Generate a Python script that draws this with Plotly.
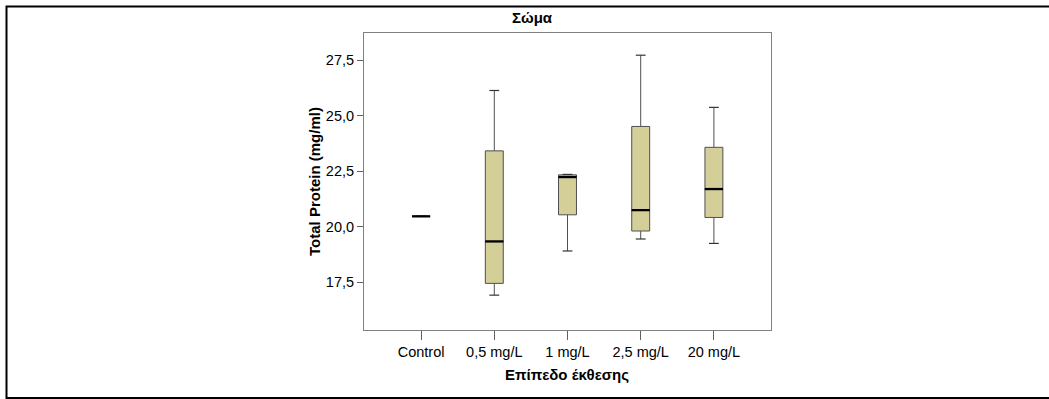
import plotly.graph_objects as go

# Five-number summaries of total protein per exposure level
categories = ["Control", "0,5 mg/L", "1 mg/L", "2,5 mg/L", "20 mg/L"]
lower_whisker = [20.46, 16.91, 18.90, 19.44, 19.24]
q1 = [20.46, 17.44, 20.53, 19.80, 20.41]
median = [20.46, 19.33, 22.23, 20.74, 21.69]
q3 = [20.46, 23.41, 22.33, 24.51, 23.57]
upper_whisker = [20.46, 26.13, 22.35, 27.72, 25.37]

y_ticks = [17.5, 20.0, 22.5, 25.0, 27.5]

W, H = 1049, 399
L, R, T, B = 364, 771, 33, 330  # plot frame in pixels
pw, ph = R - L, B - T

FONT = "Liberation Sans, Arial, sans-serif"
BOX_FILL = "#D4CF99"
EDGE = "#505050"
TICK_SIZE = 14.5
TITLE_SIZE = 15

fig = go.Figure()

fig.add_trace(go.Box(
    x=categories,
    q1=q1, median=median, q3=q3,
    lowerfence=lower_whisker, upperfence=upper_whisker,
    fillcolor=BOX_FILL,
    line=dict(color=EDGE, width=1),
    width=0.245,
    whiskerwidth=0,
    boxpoints=False,
    hoverinfo="skip",
    showlegend=False,
))

# whisker caps
fig.add_trace(go.Scatter(
    x=categories + categories,
    y=lower_whisker + upper_whisker,
    mode="markers",
    marker=dict(symbol="line-ew", size=7, line=dict(color="#333333", width=1.2)),
    hoverinfo="skip",
    showlegend=False,
))

# heavy median bars
fig.add_trace(go.Scatter(
    x=categories,
    y=median,
    mode="markers",
    marker=dict(symbol="line-ew", size=13, line=dict(color="#000000", width=2.3)),
    hoverinfo="skip",
    showlegend=False,
))

def px_x(p):
    return (p - L) / pw

def px_y(p):
    return (B - p) / ph

fig.update_layout(
    width=W, height=H,
    margin=dict(l=L, r=W - R, t=T, b=H - B),
    paper_bgcolor="white",
    plot_bgcolor="white",
    separators=",.",
    font=dict(family=FONT, size=TICK_SIZE, color="#000000"),
    xaxis=dict(
        type="category",
        range=[-0.78, 4.78],
        showgrid=False, zeroline=False,
        showline=True, linecolor="#808080", linewidth=1, mirror=True,
        ticks="outside", ticklen=9, tickcolor="#606060", tickwidth=1,
        tickfont=dict(size=TICK_SIZE, family=FONT),
    ),
    yaxis=dict(
        range=[15.34, 28.72],
        tickvals=y_ticks,
        tickformat=".1f",
        showgrid=False, zeroline=False,
        showline=True, linecolor="#808080", linewidth=1, mirror=True,
        ticks="outside", ticklen=6, tickcolor="#606060", tickwidth=1,
        tickfont=dict(size=TICK_SIZE, family=FONT),
    ),
    shapes=[dict(
        type="rect", xref="paper", yref="paper",
        x0=px_x(6.5), x1=px_x(1060), y0=px_y(398), y1=px_y(6.5),
        line=dict(color="#000000", width=2), fillcolor="rgba(0,0,0,0)",
        layer="below",
    )],
    annotations=[
        dict(text="<b>Σώμα</b>", xref="paper", yref="paper",
             x=px_x(532), y=px_y(18), showarrow=False,
             xanchor="center", yanchor="middle", font=dict(size=TITLE_SIZE, family=FONT)),
        dict(text="<b>Total Protein (mg/ml)</b>", xref="paper", yref="paper",
             x=px_x(314), y=px_y(182), showarrow=False, textangle=-90,
             xanchor="center", yanchor="middle", font=dict(size=TITLE_SIZE, family=FONT)),
        dict(text="<b>Επίπεδο έκθεσης</b>", xref="paper", yref="paper",
             x=px_x(567), y=px_y(374), showarrow=False,
             xanchor="center", yanchor="middle", font=dict(size=TITLE_SIZE, family=FONT)),
    ],
)

fig.write_html("out.html")
